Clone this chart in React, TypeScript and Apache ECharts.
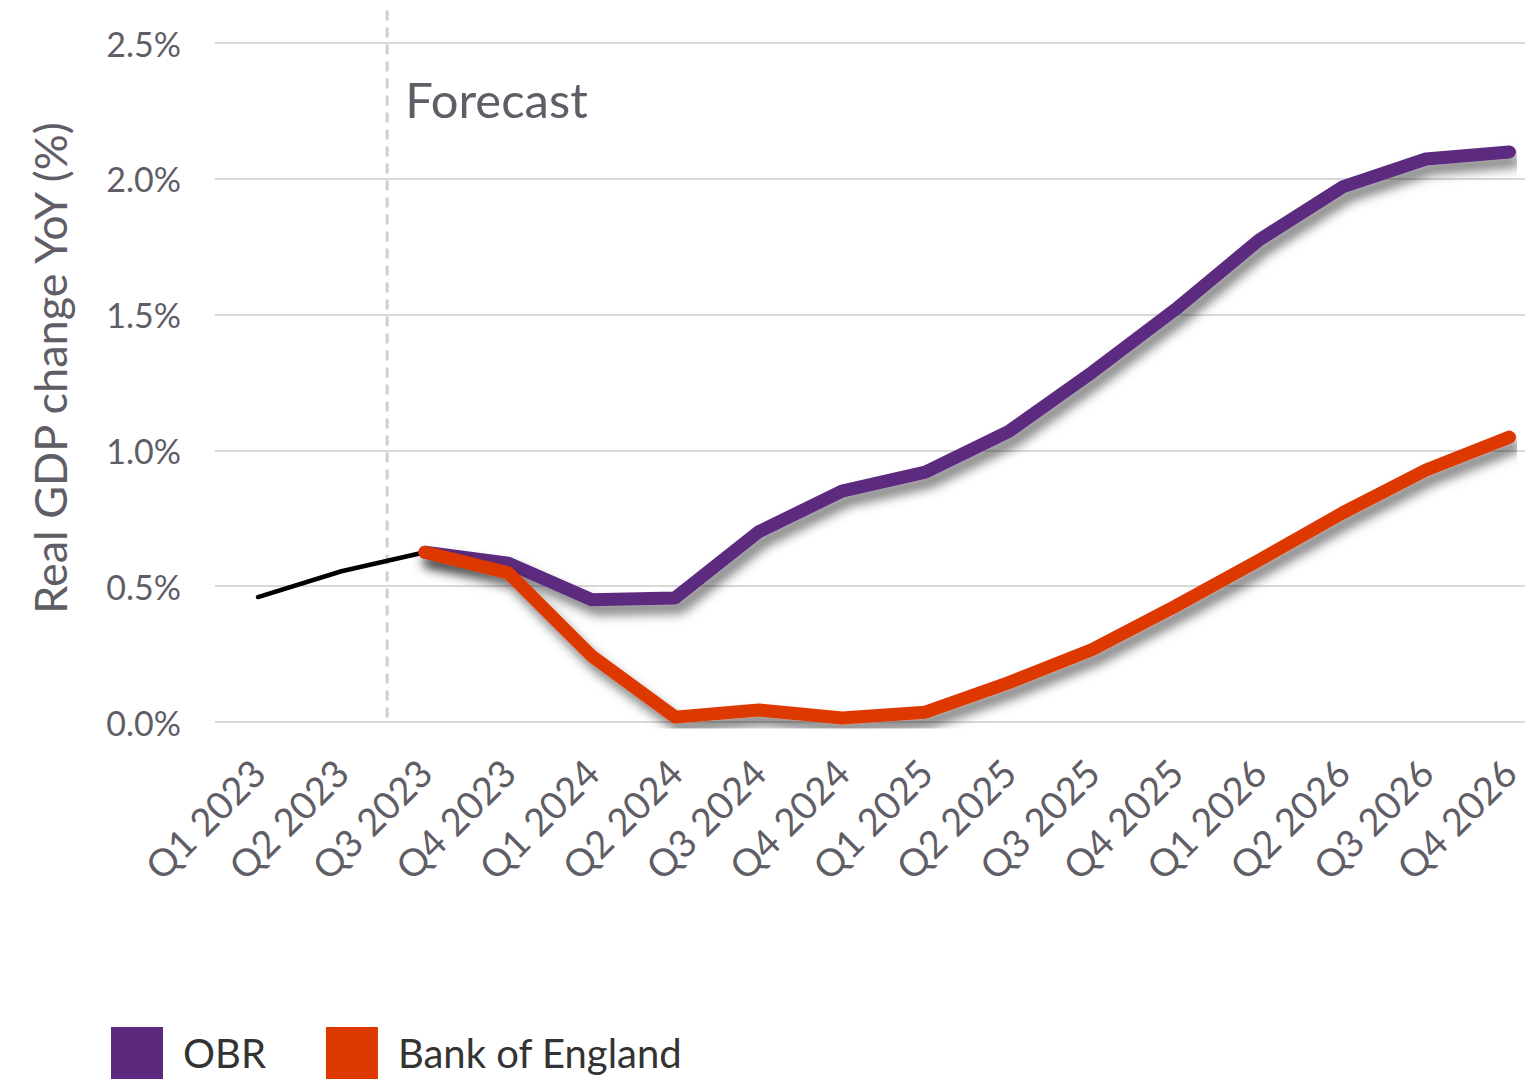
import React, { useEffect, useRef } from 'react';
import * as echarts from 'echarts';

const categories = [
  'Q1 2023', 'Q2 2023', 'Q3 2023', 'Q4 2023',
  'Q1 2024', 'Q2 2024', 'Q3 2024', 'Q4 2024',
  'Q1 2025', 'Q2 2025', 'Q3 2025', 'Q4 2025',
  'Q1 2026', 'Q2 2026', 'Q3 2026', 'Q4 2026',
];
const historical = [0.46, 0.555, 0.625, null, null, null, null, null, null, null, null, null, null, null, null, null];
const obr = [null, null, 0.625, 0.585, 0.45, 0.457, 0.70, 0.85, 0.92, 1.07, 1.288, 1.52, 1.775, 1.97, 2.073, 2.099];
const boe = [null, null, 0.625, 0.549, 0.243, 0.018, 0.044, 0.015, 0.036, 0.145, 0.267, 0.427, 0.596, 0.77, 0.928, 1.049];
const yMin = 0;
const yMax = 2.5;
const yInterval = 0.5;
const forecastLabel = 'Forecast';
const yAxisTitle = 'Real GDP change YoY (%)';
const seriesNames = ['OBR', 'Bank of England'];

const PURPLE = '#5B2A7E';
const ORANGE = '#DC3900';
const TEXT = '#5F5D66';
const GRID = '#D9D9D9';
const FONT = 'Lato, "Open Sans", sans-serif';

export default function App() {
  const ref = useRef<HTMLDivElement>(null);
  useEffect(() => {
    if (!ref.current) return;
    const chart = echarts.init(ref.current, undefined, { renderer: 'svg' });
    const shadow = {
      shadowColor: 'rgba(0,0,0,0.5)',
      shadowBlur: 11,
      shadowOffsetX: 5,
      shadowOffsetY: 9,
    };
    chart.setOption({
      animation: false,
      backgroundColor: '#ffffff',
      textStyle: { fontFamily: FONT },
      grid: [
        { left: 215, right: 0, top: 43, bottom: 357 },
        { left: 258, right: 13, top: 43, bottom: 357 },
      ],
      legend: {
        left: 111,
        top: 1027,
        padding: 0,
        itemWidth: 52,
        itemHeight: 52,
        itemGap: 60,
        icon: 'rect',
        data: seriesNames,
        textStyle: { fontSize: 40, color: '#333333', fontFamily: FONT, padding: [0, 0, 0, 15] },
      },
      xAxis: [
        { type: 'category', gridIndex: 0, data: categories, show: false },
        {
          type: 'category',
          gridIndex: 1,
          data: categories,
          boundaryGap: false,
          axisLine: { show: false },
          axisTick: { show: false },
          splitLine: { show: false },
          axisLabel: {
            rotate: 45,
            fontSize: 38,
            color: TEXT,
            margin: 44,
            interval: 0,
            fontFamily: FONT,
          },
        },
      ],
      yAxis: [
        {
          type: 'value',
          gridIndex: 0,
          min: yMin,
          max: yMax,
          interval: yInterval,
          axisLine: { show: false },
          axisTick: { show: false },
          splitLine: { lineStyle: { color: GRID, width: 2 } },
          axisLabel: {
            fontSize: 34,
            color: TEXT,
            margin: 34,
            fontFamily: FONT,
            formatter: (v: number) => v.toFixed(1) + '%',
          },
        },
        { type: 'value', gridIndex: 1, min: yMin, max: yMax, interval: yInterval, show: false },
      ],
      series: [
        {
          name: 'History',
          type: 'line',
          xAxisIndex: 1,
          yAxisIndex: 1,
          data: historical,
          showSymbol: false,
          lineStyle: { color: '#000000', width: 4.5, cap: 'round', join: 'round' },
          z: 2,
        },
        {
          name: seriesNames[0],
          type: 'line',
          xAxisIndex: 1,
          yAxisIndex: 1,
          data: obr,
          showSymbol: false,
          color: PURPLE,
          lineStyle: { color: PURPLE, width: 13, cap: 'round', join: 'round', ...shadow },
          z: 3,
        },
        {
          name: seriesNames[1],
          type: 'line',
          xAxisIndex: 1,
          yAxisIndex: 1,
          data: boe,
          showSymbol: false,
          color: ORANGE,
          lineStyle: { color: ORANGE, width: 13, cap: 'round', join: 'round', ...shadow },
          z: 4,
        },
      ],
    });

    // Forecast divider: halfway between Q2 2023 and Q3 2023, computed from the axes
    const finder = { xAxisIndex: 1, yAxisIndex: 1 } as any;
    const p1 = chart.convertToPixel(finder, [1, yMin]) as number[];
    const p2 = chart.convertToPixel(finder, [2, yMin]) as number[];
    const pTop = chart.convertToPixel(finder, [1, 2.62]) as number[];
    const yTop = chart.convertToPixel(finder, [1, yMax]) as number[];
    const dx = (p1[0] + p2[0]) / 2 + 4;
    chart.setOption({
      graphic: [
        {
          type: 'line',
          z: 1,
          shape: { x1: dx, y1: pTop[1], x2: dx, y2: p1[1] },
          style: { stroke: '#CFCFCF', lineWidth: 3, lineDash: [10, 7] },
        },
        {
          type: 'text',
          x: dx + 18,
          y: yTop[1] + 56,
          style: {
            text: forecastLabel,
            fontSize: 49,
            fill: TEXT,
            fontFamily: FONT,
            verticalAlign: 'middle',
            align: 'left',
          },
        },
        {
          type: 'text',
          x: 50,
          y: 368,
          rotation: Math.PI / 2,
          style: {
            text: yAxisTitle,
            fontSize: 45,
            fill: TEXT,
            fontFamily: FONT,
            verticalAlign: 'middle',
            align: 'center',
          },
        },
      ],
    });

    return () => chart.dispose();
  }, []);
  return (
    <div
      ref={ref}
      style={{ position: 'absolute', left: 0, top: 0, width: 1525, height: 1079 }}
    />
  );
}
